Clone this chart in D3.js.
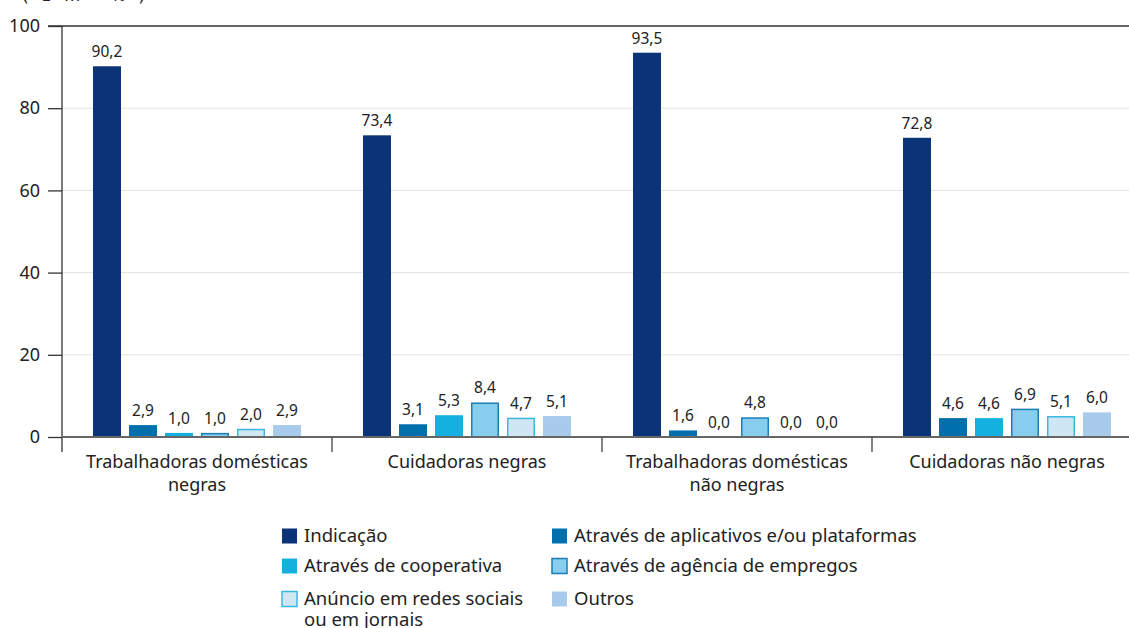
<!DOCTYPE html>
<html>
<head>
<meta charset="utf-8">
<script src="https://cdn.jsdelivr.net/npm/d3@7"></script>
<style>
  body { margin: 0; background: #fff; }
  svg text { font-family: "Noto Sans", "Open Sans", sans-serif; fill: #222; }
</style>
</head>
<body>
<div id="chart"></div>
<script>
// chart data
var groups = [
  ["Trabalhadoras domésticas", "negras"],
  ["Cuidadoras negras"],
  ["Trabalhadoras domésticas", "não negras"],
  ["Cuidadoras não negras"]
];
var groupKeys = ["g1", "g2", "g3", "g4"];

var seriesNames = [
  ["Indicação"],
  ["Através de aplicativos e/ou plataformas"],
  ["Através de cooperativa"],
  ["Através de agência de empregos"],
  ["Anúncio em redes sociais", "ou em jornais"],
  ["Outros"]
];

// one array per series, one value per group
var indicacao   = [90.2, 73.4, 93.5, 72.8];
var aplicativos = [2.9, 3.1, 1.6, 4.6];
var cooperativa = [1.0, 5.3, 0.0, 4.6];
var agencia     = [1.0, 8.4, 4.8, 6.9];
var anuncio     = [2.0, 4.7, 0.0, 5.1];
var outros      = [2.9, 5.1, 0.0, 6.0];

var yTicks = [0, 20, 40, 60, 80, 100];

var seriesValues = [indicacao, aplicativos, cooperativa, agencia, anuncio, outros];
var fills   = ["#0a3378", "#0070ad", "#14b1e0", "#86cdee", "#cfe7f2", "#a8cbeb"];
var strokes = [null, null, null, "#1b7fb7", "#3bb8e2", null];

var svgWidth = 1129;
var svgHeight = 628;

var margin = { top: 26, left: 62 };
var chartHeight = 411;   // 100 -> 0
var bandWidth = 270;

var svg = d3.select("#chart")
  .append("svg")
  .attr("width", svgWidth)
  .attr("height", svgHeight);

// unit label, mostly cut off at the top edge
svg.append("text")
  .attr("x", 23)
  .attr("y", 0.5)
  .attr("font-size", "17px")
  .attr("textLength", 121)
  .attr("lengthAdjust", "spacing")
  .text("(Em %)");

var chartGroup = svg.append("g")
  .attr("transform", `translate(${margin.left}, ${margin.top})`);

var xScale = d3.scaleBand()
  .domain(groupKeys)
  .range([0, bandWidth * groupKeys.length]);

var xInner = d3.scaleBand()
  .domain(d3.range(seriesValues.length))
  .range([0, bandWidth])
  .paddingInner(0.222)
  .paddingOuter(0.861);

var yScale = d3.scaleLinear()
  .domain([0, 100])
  .range([chartHeight, 0]);

// light gridlines
chartGroup.selectAll(".grid")
  .data(yTicks.filter(t => t > 0 && t < 100))
  .enter()
  .append("line")
  .attr("x1", 0)
  .attr("x2", svgWidth)
  .attr("y1", d => yScale(d))
  .attr("y2", d => yScale(d))
  .attr("stroke", "#e2e2e2")
  .attr("stroke-width", 1);

// top line at 100
chartGroup.append("line")
  .attr("x1", -14)
  .attr("x2", svgWidth)
  .attr("y1", yScale(100))
  .attr("y2", yScale(100))
  .attr("stroke", "#666")
  .attr("stroke-width", 2);

// bars
var seriesGroups = chartGroup.selectAll(".series")
  .data(seriesValues)
  .enter()
  .append("g")
  .attr("class", "series");

seriesGroups.selectAll("rect")
  .data((vals, si) => vals.map((v, gi) => ({ v: v, si: si, gi: gi })))
  .enter()
  .append("rect")
  .attr("x", d => xScale(groupKeys[d.gi]) + xInner(d.si) + (strokes[d.si] ? 0.75 : 0))
  .attr("y", d => yScale(d.v) + (strokes[d.si] && d.v > 0 ? 0.75 : 0))
  .attr("width", d => xInner.bandwidth() - (strokes[d.si] ? 1.5 : 0))
  .attr("height", d => Math.max(0, chartHeight - yScale(d.v) - (strokes[d.si] && d.v > 0 ? 0.75 : 0)))
  .attr("fill", d => fills[d.si])
  .attr("stroke", d => (strokes[d.si] && d.v > 0) ? strokes[d.si] : "none")
  .attr("stroke-width", 1.5);

// value labels
seriesGroups.selectAll("text")
  .data((vals, si) => vals.map((v, gi) => ({ v: v, si: si, gi: gi })))
  .enter()
  .append("text")
  .attr("x", d => xScale(groupKeys[d.gi]) + xInner(d.si) + xInner.bandwidth() / 2)
  .attr("y", d => yScale(d.v) - 9)
  .attr("text-anchor", "middle")
  .attr("font-size", "15.5px")
  .text(d => d3.format(".1f")(d.v).replace(".", ","));

// y axis
var leftAxis = d3.axisLeft(yScale)
  .tickValues(yTicks)
  .tickSize(14)
  .tickPadding(8);

var yAxisG = chartGroup.append("g").call(leftAxis);
yAxisG.select(".domain").remove();
yAxisG.selectAll("line").attr("stroke", "#333").attr("stroke-width", 1.3);
yAxisG.selectAll("text")
  .attr("font-size", "18px")
  .style("font-family", "'Noto Sans', sans-serif")
  .attr("fill", "#222");

chartGroup.append("line")
  .attr("x1", 0).attr("x2", 0)
  .attr("y1", 0).attr("y2", chartHeight + 15)
  .attr("stroke", "#333")
  .attr("stroke-width", 1.3);

// x axis baseline
chartGroup.append("line")
  .attr("x1", 0)
  .attr("x2", svgWidth)
  .attr("y1", chartHeight)
  .attr("y2", chartHeight)
  .attr("stroke", "#666")
  .attr("stroke-width", 2);

// group separators
chartGroup.selectAll(".sep")
  .data(groupKeys.slice(1))
  .enter()
  .append("line")
  .attr("x1", d => xScale(d))
  .attr("x2", d => xScale(d))
  .attr("y1", chartHeight)
  .attr("y2", chartHeight + 15)
  .attr("stroke", "#444")
  .attr("stroke-width", 1.3);

// category labels
var catLabels = chartGroup.selectAll(".cat")
  .data(groups)
  .enter()
  .append("text")
  .attr("text-anchor", "middle")
  .attr("font-size", "18px")
  .attr("transform", (d, i) => `translate(${xScale(groupKeys[i]) + xScale.bandwidth() / 2}, ${chartHeight + 31})`);

catLabels.selectAll("tspan")
  .data(d => d)
  .enter()
  .append("tspan")
  .attr("x", 0)
  .attr("dy", (d, i) => i === 0 ? 0 : 23)
  .text(d => d);

// legend
var legendCols = [282, 552];
var legendRows = [536, 566, 599];

var legend = svg.selectAll(".legend")
  .data(seriesNames)
  .enter()
  .append("g")
  .attr("class", "legend")
  .attr("transform", (d, i) => `translate(${legendCols[i % 2]}, ${legendRows[Math.floor(i / 2)]})`);

legend.append("rect")
  .attr("x", 0)
  .attr("y", -7.5)
  .attr("width", 15)
  .attr("height", 15)
  .attr("fill", (d, i) => fills[i])
  .attr("stroke", (d, i) => strokes[i] || "none")
  .attr("stroke-width", 1.5);

legend.append("text")
  .attr("x", 22)
  .attr("y", 6)
  .attr("font-size", "18.5px")
  .selectAll("tspan")
  .data(d => d)
  .enter()
  .append("tspan")
  .attr("x", 22)
  .attr("dy", (d, i) => i === 0 ? 0 : 21)
  .text(d => d);
</script>
</body>
</html>
